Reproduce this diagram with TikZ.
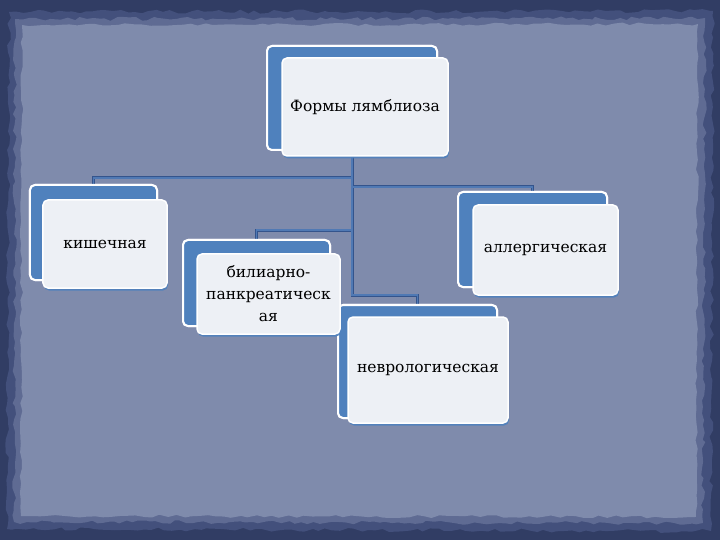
\documentclass[tikz,border=0pt]{standalone}
\usepackage{fontspec}
\setmainfont{DejaVu Serif}
\usetikzlibrary{decorations.pathmorphing,shadows}
\definecolor{frame}{HTML}{313D64}
\definecolor{frame2}{HTML}{43507C}
\definecolor{frame3}{HTML}{5F6B93}
\definecolor{paper}{HTML}{7F8BAC}
\definecolor{boxblue}{HTML}{4F81BD}
\definecolor{boxface}{HTML}{EDF0F5}
\definecolor{linkdark}{HTML}{34548C}
\definecolor{linkmid}{HTML}{5079B4}
\tikzset{
  backbox/.style={draw=white, line width=2bp, fill=boxblue, rounded corners=5bp, inner sep=0pt},
  facebox/.style={draw=white, line width=1.5bp, fill=boxface, rounded corners=5bp, inner sep=2bp, align=center,
     font=\fontsize{15.5bp}{22bp}\selectfont, text=black,
     drop shadow={shadow xshift=1bp, shadow yshift=-2.5bp, fill=boxblue, opacity=0.9}},
  link/.style={draw=linkmid, line width=1.2bp},
  linkhalo/.style={draw=linkdark, line width=3bp},
}
\begin{document}
\begin{tikzpicture}[x=1bp,y=-1bp]
\useasboundingbox (0,0) rectangle (720,540);
% background
\fill[frame] (0,0) rectangle (720,540);
\pgfmathsetseed{7}
\fill[frame2, decorate, decoration={random steps, segment length=7bp, amplitude=2bp}]
  (9,12) -- (713,11) -- (711,531) -- (7,529) -- cycle;
\fill[frame3, decorate, decoration={random steps, segment length=6bp, amplitude=2bp}]
  (15,19) -- (705,18) -- (703,523) -- (14,522) -- cycle;
\fill[paper, decorate, decoration={random steps, segment length=8bp, amplitude=1.5bp}]
  (22,25) -- (698,24) -- (696,517) -- (21,516) -- cycle;
% back boxes
\node[backbox, minimum width=170bp, minimum height=104bp] (topb) at (352,98) {};
\node[backbox, minimum width=127bp, minimum height=95bp] (kb) at (93.5,232.5) {};
\node[backbox, minimum width=147bp, minimum height=86bp] (bb) at (256.5,283) {};
\node[backbox, minimum width=149bp, minimum height=95bp] (ab) at (532.5,239.5) {};
\node[backbox, minimum width=159bp, minimum height=113bp] (nb) at (417.5,361.5) {};
% connectors
\foreach \t/\d in {kb/27, ab/36, bb/79, nb/144}{
  \draw[linkhalo] (topb.south) -- ++(0,\d) -| (\t.north);
}
\foreach \t/\d in {kb/27, ab/36, bb/79, nb/144}{
  \draw[link] (topb.south) -- ++(0,\d) -| (\t.north);
}
% redraw back boxes over connectors
\node[backbox, minimum width=170bp, minimum height=104bp] at (topb) {};
\node[backbox, minimum width=127bp, minimum height=95bp] at (kb) {};
\node[backbox, minimum width=147bp, minimum height=86bp] at (bb) {};
\node[backbox, minimum width=149bp, minimum height=95bp] at (ab) {};
\node[backbox, minimum width=159bp, minimum height=113bp] at (nb) {};
% face boxes
\node[facebox, minimum width=166bp, minimum height=98bp] (top) at (365,107) {Формы лямблиоза};
\node[facebox, minimum width=124bp, minimum height=88bp] (k) at (105,244) {кишечная};
\node[facebox, minimum width=143bp, minimum height=80bp, text width=139bp] (b) at (268.5,294) {билиарно-\\панкреатическ\\ая};
\node[facebox, minimum width=145bp, minimum height=90bp] (a) at (545.5,250) {аллергическая};
\node[facebox, minimum width=160bp, minimum height=106bp] (n) at (428,370) {неврологическая};
\end{tikzpicture}
\end{document}
